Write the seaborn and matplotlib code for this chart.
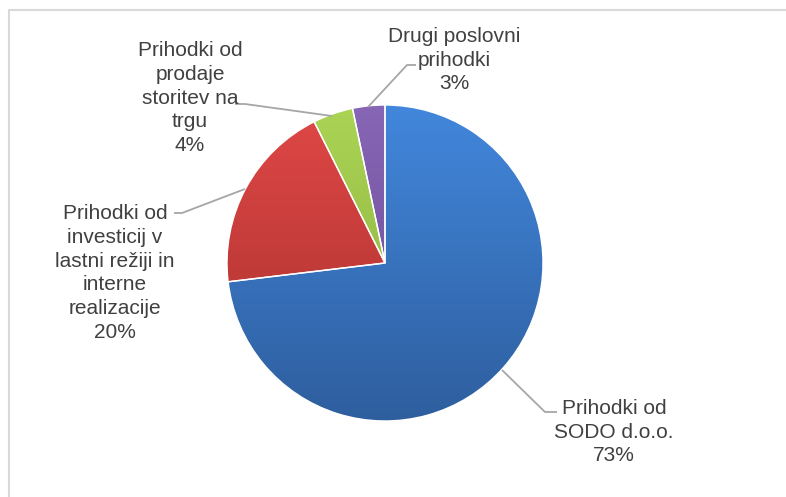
import numpy as np
import matplotlib
matplotlib.use("Agg")
import matplotlib.pyplot as plt
import seaborn as sns
from matplotlib.colors import LinearSegmentedColormap

# ---- data ----
categories = [
    "Prihodki od\nSODO d.o.o.",
    "Prihodki od\ninvesticij v\nlastni režiji in\ninterne\nrealizacije",
    "Prihodki od\nprodaje\nstoritev na\ntrgu",
    "Drugi poslovni\nprihodki",
]
values = [73.1, 19.5, 4.1, 3.3]
top_colors = ["#4287DC", "#E04846", "#ABD455", "#8766B5"]
bottom_colors = ["#2E5E9E", "#A52F2D", "#88AB3A", "#664893"]

sns.set_theme(style="white")
plt.rcParams["font.family"] = ["Liberation Sans", "DejaVu Sans"]

W, H = 786, 497
fig = plt.figure(figsize=(W / 100, H / 100), dpi=100)
ax = fig.add_axes([0, 0, 1, 1])

def Y(y):
    return H - y

cx, cy, r = 385, Y(263), 158
wedges, _ = ax.pie(values, startangle=90, counterclock=False,
                   center=(cx, cy), radius=r,
                   wedgeprops=dict(edgecolor="white", linewidth=1.0),
                   frame=True)

grad = np.linspace(0, 1, 256).reshape(-1, 1)
for w, ct, cb in zip(wedges, top_colors, bottom_colors):
    w.set_facecolor("none")
    cmap = LinearSegmentedColormap.from_list("g", [ct, cb])
    im = ax.imshow(grad, cmap=cmap, aspect="auto", origin="upper",
                   extent=(cx - r, cx + r, cy - r, cy + r), zorder=1)
    im.set_clip_path(w)
    w.set_zorder(2)

ax.set_xlim(0, W)
ax.set_ylim(0, H)
ax.set_aspect("auto")
ax.axis("off")

txt = dict(fontsize=15, color="#404040", ha="center", va="center",
           linespacing=1.33)
pcts = [f"{round(v):d}%" for v in values]
label_pos = [(614, 432), (115, 273), (190, 98), (454, 60)]
for cat, p, (lx, ly) in zip(categories, pcts, label_pos):
    ax.text(lx, Y(ly), f"{cat}\n{p}", **txt)

lc = dict(color="#A6A6A6", lw=1.3, solid_capstyle="butt")
leaders = [
    [(502, 370), (545, 412), (557, 412)],
    [(174, 213), (182, 213), (245, 189)],
    [(235, 104), (245, 104), (332, 116)],
    [(368, 107), (407, 65), (416, 65)],
]
for pts in leaders:
    xs = [p[0] for p in pts]
    ys = [Y(p[1]) for p in pts]
    ax.plot(xs, ys, **lc)

# chart frame (cropped: only left and top edges visible)
ax.plot([9, 9, W], [0, Y(10), Y(10)], color="#D9D9D9", lw=1.5)

fig.savefig("out.png", dpi=100)
